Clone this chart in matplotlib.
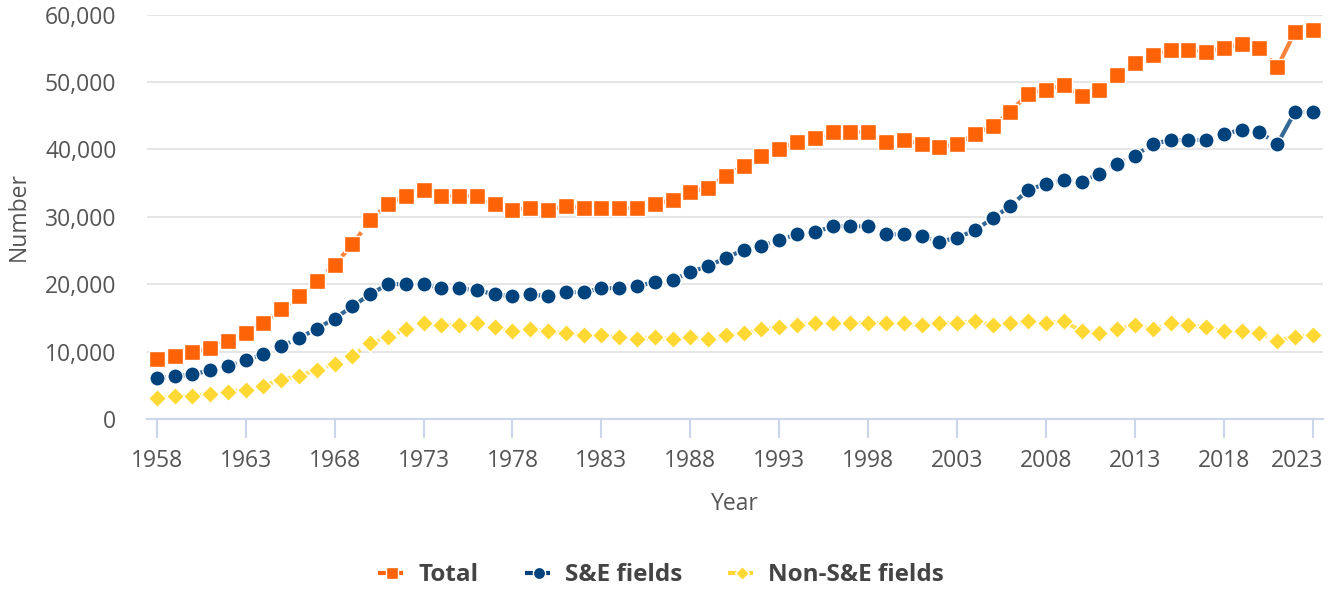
import matplotlib

matplotlib.use("Agg")
import matplotlib.pyplot as plt
import matplotlib.transforms as mtransforms
from matplotlib.lines import Line2D
from matplotlib.ticker import FuncFormatter

years = list(range(1958, 2024))

total = [
    8900, 9300, 9900, 10500, 11600, 12800, 14300, 16300, 18200, 20500,
    22900, 25900, 29500, 31900, 33100, 34000, 33100, 33100, 33100, 31900,
    31000, 31300, 31000, 31600, 31300, 31300, 31300, 31300, 31900, 32500,
    33700, 34300, 36100, 37600, 39100, 40000, 41100, 41700, 42600, 42600,
    42600, 41100, 41400, 40800, 40300, 40800, 42300, 43500, 45600, 48300,
    48900, 49500, 48000, 48900, 51000, 52800, 54000, 54800, 54800, 54500,
    55100, 55700, 55100, 52200, 57500, 57800,
]
se_fields = [
    6000, 6300, 6600, 7200, 7800, 8700, 9600, 10800, 12000, 13400,
    14900, 16700, 18500, 20000, 20000, 20000, 19400, 19400, 19100, 18500,
    18200, 18500, 18200, 18800, 18800, 19400, 19400, 19700, 20300, 20600,
    21800, 22700, 23900, 25100, 25700, 26600, 27400, 27700, 28600, 28600,
    28600, 27400, 27400, 27100, 26300, 26900, 28000, 29800, 31600, 34000,
    34900, 35500, 35200, 36400, 37900, 39100, 40800, 41400, 41400, 41400,
    42300, 42900, 42600, 40800, 45600, 45600,
]
non_se_fields = [
    3100, 3400, 3400, 3700, 4000, 4300, 4900, 5800, 6400, 7300,
    8200, 9400, 11200, 12100, 13300, 14200, 13900, 13900, 14200, 13600,
    13000, 13300, 13000, 12700, 12400, 12400, 12100, 11800, 12100, 11800,
    12100, 11800, 12400, 12700, 13300, 13600, 13900, 14200, 14200, 14200,
    14200, 14200, 14200, 13900, 14200, 14200, 14500, 13900, 14200, 14500,
    14200, 14500, 13000, 12700, 13300, 13900, 13300, 14200, 13900, 13600,
    13000, 13000, 12700, 11600, 12200, 12400,
]

series = [
    ("Total", total, "#fe6308", "s", 11),
    ("S&E fields", se_fields, "#00427c", "o", 11),
    ("Non-S&E fields", non_se_fields, "#ffd833", "D", 9),
]

# segment 2021 -> 2022 is drawn solid in the source chart
brk = years.index(2021)

text_color = "#555555"
axis_color = "#ccd6eb"
dash = (0, (2.2, 1.2, 0.6, 1.2))

plt.rcParams["font.family"] = ["Open Sans", "DejaVu Sans"]

fig = plt.figure(figsize=(13.36, 5.90), dpi=100)
ax = fig.add_axes([0.110, 0.290, 0.880, 0.685])

handles = []
for name, vals, color, marker, ms in series:
    ax.plot(years[: brk + 1], vals[: brk + 1], color=color, lw=3, ls=dash, alpha=0.8, zorder=2)
    ax.plot(years[brk + 1:], vals[brk + 1:], color=color, lw=3, ls=dash, alpha=0.8, zorder=2)
    ax.plot(years[brk: brk + 2], vals[brk: brk + 2], color=color, lw=3, alpha=0.8, zorder=2)
    ax.plot(years, vals, ls="none", marker=marker, ms=ms, color=color,
            mec="#ffffff", mew=1, zorder=3)
    handles.append(Line2D([], [], color=color, lw=3, ls=(0, (2.2, 1.6)), marker=marker,
                          ms=ms * 0.8, mec="#ffffff", mew=1, label=name))

ax.set_xlim(1957.45, 2023.55)
ax.set_ylim(0, 60000)
ax.set_yticks(range(0, 60001, 10000))
ax.yaxis.set_major_formatter(FuncFormatter(lambda v, p: f"{int(v):,}"))
ax.set_xticks(range(1958, 2024, 5))

ax.grid(axis="y", color="#e6e6e6", lw=1.5)
ax.set_axisbelow(True)
for side in ["top", "right", "left"]:
    ax.spines[side].set_visible(False)
ax.spines["bottom"].set_color(axis_color)
ax.spines["bottom"].set_linewidth(1.5)

ax.tick_params(axis="y", length=0, pad=22, labelsize=16.5, labelcolor=text_color)
ax.tick_params(axis="x", length=13.7, width=1.5, color=axis_color, pad=8,
               labelsize=16.5, labelcolor=text_color)

# keep the last year label inside the figure, as the source does
last = ax.get_xticklabels()[-1]
last.set_transform(last.get_transform() + mtransforms.ScaledTranslation(-0.16, 0, fig.dpi_scale_trans))

ax.set_xlabel("Year", fontsize=16.5, color=text_color, labelpad=14)
ax.set_ylabel("Number", fontsize=16.5, color=text_color, labelpad=10)

fig.legend(handles=handles, loc="center", bbox_to_anchor=(0.495, 0.025), ncol=3,
           frameon=False, handlelength=1.15, columnspacing=1.9, handletextpad=0.5,
           prop={"weight": "bold", "size": 17.5}, labelcolor="#444444")

fig.savefig("out.png", dpi=100)
